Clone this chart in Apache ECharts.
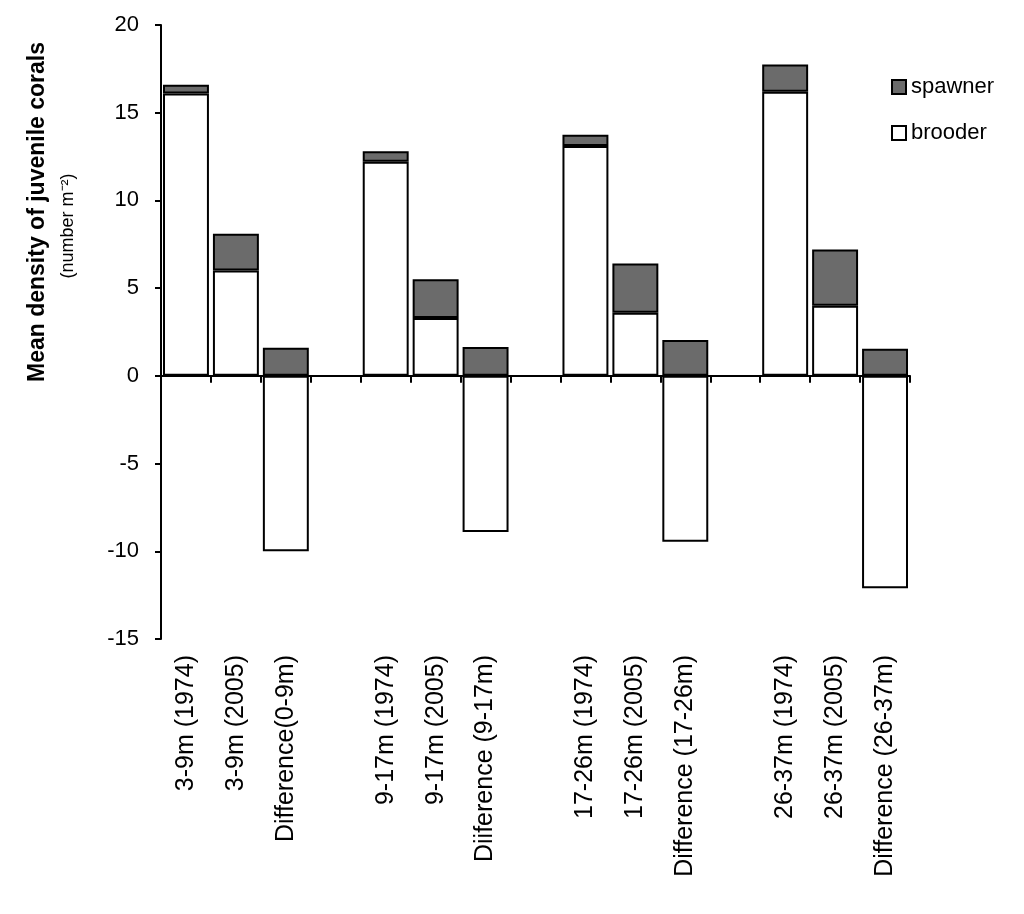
<!DOCTYPE html>
<html>
<head>
<meta charset="utf-8">
<title>Juvenile corals</title>
<script src="https://cdn.jsdelivr.net/npm/echarts@6/dist/echarts.min.js"></script>
<style>
  html, body { margin: 0; padding: 0; background: #fff; }
  #chart { width: 1024px; height: 914px; }
</style>
</head>
<body>
<div id="chart"></div>
<script>
// blank strings are the gaps between depth groups
const categories = [
  "3-9m (1974)", "3-9m (2005)", "Difference(0-9m)", "",
  "9-17m (1974)", "9-17m (2005)", "Diiference (9-17m)", "",
  "17-26m (1974)", "17-26m (2005)", "Difference (17-26m)", "",
  "26-37m (1974)", "26-37m (2005)", "Difference (26-37m)"
];
const brooder = [16.1, 6.0, -10.0, null, 12.2, 3.3, -8.9, null, 13.1, 3.6, -9.45, null, 16.2, 4.0, -12.1];
const spawner = [0.5, 2.1, 1.6, null, 0.6, 2.2, 1.65, null, 0.65, 2.8, 2.05, null, 1.55, 3.2, 1.55];

const yMin = -15;
const yMax = 20;
const yStep = 5;

const font = "Liberation Sans, Arial, sans-serif";

const chart = echarts.init(document.getElementById("chart"));

const option = {
  animation: false,
  backgroundColor: "#fff",
  textStyle: { fontFamily: font, color: "#000" },
  grid: { left: 161, right: 114, top: 25, bottom: 275, containLabel: false },
  legend: {
    orient: "vertical",
    left: 886,
    top: 71,
    itemWidth: 14,
    itemHeight: 14,
    itemGap: 24,
    icon: "rect",
    textStyle: { fontSize: 22, color: "#000", fontFamily: font },
    data: ["spawner", "brooder"]
  },
  xAxis: [
    {
      type: "category",
      data: categories,
      position: "bottom",
      axisLine: { show: false, onZero: false },
      axisTick: { show: false },
      axisLabel: {
        interval: 0,
        rotate: 90,
        margin: 16,
        fontSize: 25,
        color: "#000",
        fontFamily: font
      },
      splitLine: { show: false }
    },
    {
      type: "category",
      data: categories,
      position: "bottom",
      axisLine: { show: true, onZero: true, lineStyle: { color: "#000", width: 2 } },
      axisTick: { show: true, interval: 0, length: 7, lineStyle: { color: "#000", width: 2 } },
      axisLabel: { show: false, interval: 0 },
      splitLine: { show: false }
    }
  ],
  yAxis: {
    type: "value",
    min: yMin,
    max: yMax,
    interval: yStep,
    axisLine: { show: true, lineStyle: { color: "#000", width: 2 } },
    axisTick: { show: true, length: 6, lineStyle: { color: "#000", width: 2 } },
    axisLabel: { fontSize: 22, color: "#000", margin: 22, fontFamily: font },
    splitLine: { show: false }
  },
  graphic: [
    {
      type: "text",
      x: 38,
      y: 212,
      rotation: Math.PI / 2,
      style: {
        text: "Mean density of juvenile corals",
        font: "bold 23px " + font,
        fill: "#000",
        align: "center",
        verticalAlign: "middle"
      }
    },
    {
      type: "text",
      x: 68,
      y: 226,
      rotation: Math.PI / 2,
      style: {
        text: "(number m\u207B\u00B2)",
        font: "18px " + font,
        fill: "#000",
        align: "center",
        verticalAlign: "middle"
      }
    }
  ],
  series: [
    {
      name: "brooder",
      type: "bar",
      stack: "total",
      xAxisIndex: 0,
      barCategoryGap: "8%",
      data: brooder,
      itemStyle: { color: "#ffffff", borderColor: "#000", borderWidth: 2 }
    },
    {
      name: "spawner",
      type: "bar",
      stack: "total",
      xAxisIndex: 0,
      barCategoryGap: "8%",
      data: spawner,
      itemStyle: { color: "#6b6b6b", borderColor: "#000", borderWidth: 2 }
    }
  ]
};

chart.setOption(option);

window.addEventListener("resize", function () {
  chart.resize();
});
</script>
</body>
</html>
